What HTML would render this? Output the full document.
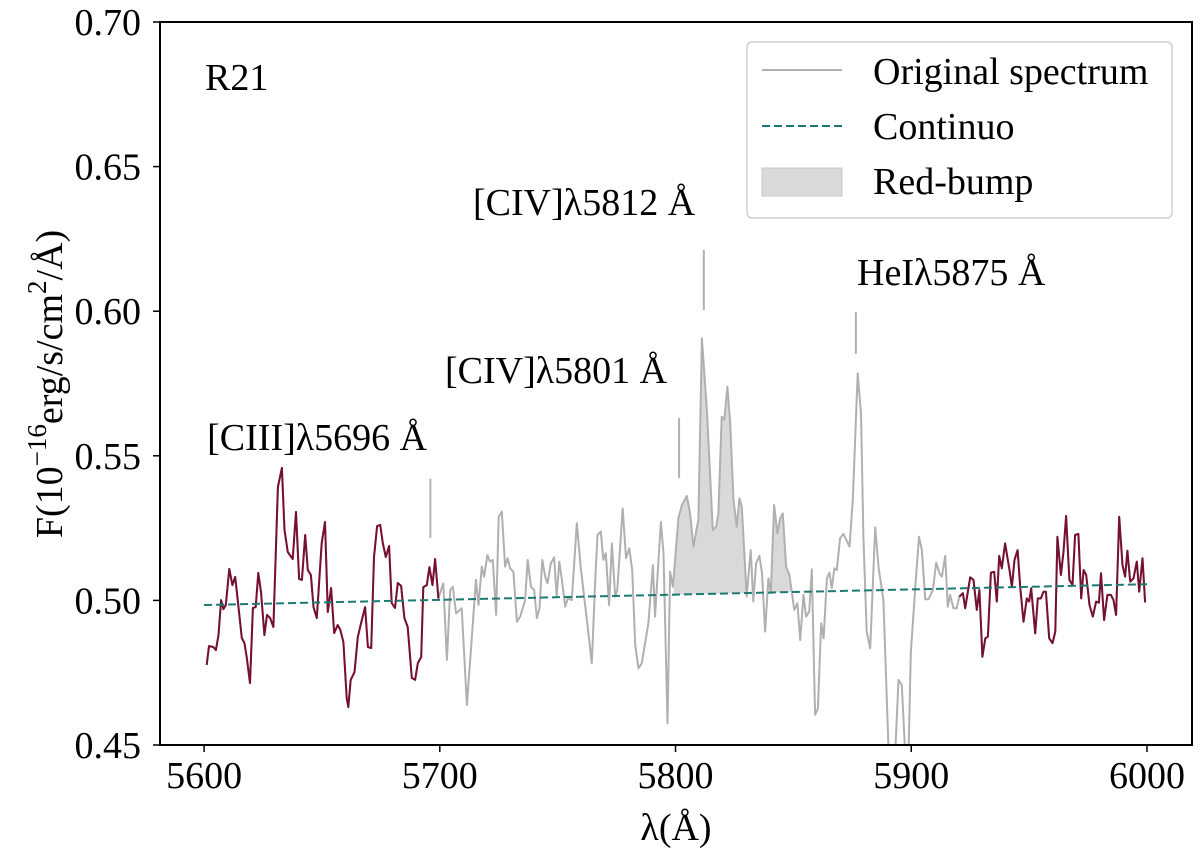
<!DOCTYPE html>
<html><head><meta charset="utf-8"><style>
html,body{margin:0;padding:0;background:#fff;}
svg{display:block;font-family:"Liberation Serif",serif;}
</style></head><body>
<svg id="chart" width="1200" height="854" viewBox="0 0 1200 854"></svg>
<script>
const wavelengths = [5601.1,5602.1,5603.9,5605.0,5606.1,5607.2,5608.2,5609.2,5610.7,5612.0,5613.2,5614.6,5616.0,5617.1,5618.1,5619.5,5620.7,5621.9,5623.0,5624.2,5625.6,5626.7,5628.0,5629.4,5631.3,5633.0,5634.1,5635.5,5637.6,5639.0,5640.3,5641.5,5642.9,5644.0,5645.3,5646.4,5647.8,5649.9,5651.3,5652.5,5653.9,5655.2,5656.7,5657.8,5659.1,5660.5,5661.2,5662.2,5663.8,5665.2,5666.6,5668.3,5669.5,5670.9,5672.1,5673.4,5674.7,5675.8,5677.1,5678.5,5679.6,5681.0,5682.2,5683.6,5685.0,5686.4,5688.1,5689.5,5690.7,5692.1,5693.0,5694.5,5695.6,5696.9,5698.0,5699.4,
5701.5,5703.0,5704.4,5705.5,5706.9,5709.3,5711.5,5713.6,5715.3,5716.4,5717.8,5718.8,5720.2,5721.3,5722.5,5723.9,5725.0,5726.3,5727.7,5728.8,5729.8,5731.2,5732.7,5734.1,5736.2,5737.3,5738.7,5740.0,5741.2,5742.3,5743.5,5744.7,5745.7,5747.1,5748.5,5749.6,5750.7,5751.8,5753.2,5754.3,5756.0,5758.1,5759.8,5762.4,5764.5,5765.9,5766.9,5768.3,5769.4,5770.4,5771.8,5773.0,5774.4,5775.3,5777.6,5779.0,5780.4,5781.6,5782.9,5784.3,5785.7,5788.5,5790.4,5791.3,5793.8,5794.9,5796.6,5797.7,5798.9,5801.2,5802.7,5804.8,5806.2,5807.6,5809.7,5811.2,5813.3,5815.8,5817.2,5818.2,5819.6,5820.7,5822.0,5823.2,5824.6,5826.0,5827.1,5828.1,5830.2,5831.9,5833.0,5834.2,5835.6,5836.7,5838.0,5839.4,5840.4,5841.8,5843.2,5844.4,5845.5,5846.9,5848.3,5850.4,5851.7,5852.9,5854.3,5855.4,5856.7,5857.8,5859.2,5860.4,5861.8,5862.8,5864.2,5865.3,5866.3,5867.4,5868.4,5869.8,5871.2,5873.8,5875.2,5877.3,5878.7,5879.7,5881.1,5882.6,5884.7,5886.1,5888.2,5890.3,5892.3,5894.6,5896.0,5898.4,5899.8,5901.7,5903.3,5904.5,5905.9,5907.3,5909.2,5910.6,5912.0,5913.0,5914.4,5915.5,5916.5,5917.9,5919.3,5920.4,
5921.9,5922.9,5925.0,5926.4,5927.8,5928.9,5930.2,5931.4,5932.5,5933.8,5935.2,5936.3,5937.3,5938.4,5939.8,5941.7,5942.7,5943.8,5945.1,5946.2,5947.6,5949.0,5950.0,5950.9,5952.6,5953.7,5955.0,5956.1,5957.1,5958.5,5959.9,5961.1,5962.0,5963.5,5964.6,5965.7,5967.1,5968.4,5969.5,5970.9,5972.1,5973.1,5974.2,5975.6,5977.0,5978.4,5979.6,5980.5,5981.8,5983.2,5984.7,5985.8,5986.9,5988.2,5989.6,5990.7,5991.7,5992.9,5994.3,5995.7,5996.7,5998.1,5999.2];
const fluxes = [.4777,.4842,.4839,.4828,.4880,.5001,.4970,.4984,.5109,.5053,.5081,.4977,.4870,.4853,.4804,.4714,.4974,.4977,.5095,.5026,.4880,.4950,.4939,.4908,.5392,.5458,.5243,.5167,.5143,.5306,.5074,.5071,.5226,.5105,.5088,.4977,.4939,.5198,.5271,.4960,.5043,.4887,.4915,.4898,.4856,.4662,.4631,.4725,.4752,.4873,.4922,.4977,.4839,.4835,.5150,.5257,.5261,.5198,.5150,.5188,.4991,.4974,.5060,.5050,.4939,.4908,.4732,.4725,.4784,.4804,.5046,.5053,.5115,.5053,.5143,.5007,
.5059,.4794,.5036,.5047,.4955,.4973,.4638,.4875,.5071,.4984,.5117,.5082,.5157,.5134,.5140,.4950,.5289,.5307,.5117,.5146,.5111,.5099,.4926,.4944,.5001,.5140,.5047,.5036,.4938,.4973,.5140,.5082,.5059,.5128,.5149,.5013,.5134,.5071,.4978,.5007,.5001,.5267,.5111,.4932,.4783,.5059,.5226,.5238,.5140,.5163,.4984,.5197,.5013,.5036,.5318,.5146,.5180,.5105,.4846,.4765,.4783,.4921,.5122,.4944,.5272,.5163,.4575,.5099,.5047,.5284,.5330,.5361,.5301,.5186,.5280,.5906,.5658,.5243,.5255,.5301,.5635,.5624,.5739,.5613,.5347,.5255,.5353,.5324,.5013,.5174,.4996,.5128,.5154,.5094,.4892,.5076,.5025,.5330,.5232,.5284,.5301,.5117,.5088,.4967,.4990,.4863,.5019,.4944,.4961,.5108,.4604,.4627,.4921,.4869,.5076,.5096,.5042,.5111,.5105,.5215,.5230,.5186,.5347,.5785,.5647,.5220,.4892,.4834,.5253,.5117,.5001,.4500,.4310,.4725,.4707,.4310,.4817,.5047,.5220,.5174,.5004,.5004,.5036,.5130,.5094,.5082,.5154,.4978,.5019,.4973,.4973,.5013,
.5025,.4973,.5080,.5071,.4967,.5036,.4805,.4869,.4875,.5096,.5099,.4996,.5154,.5111,.5197,.5105,.5047,.5140,.5174,.5047,.4926,.5007,.4996,.5042,.4886,.5007,.5007,.5030,.5030,.4869,.4852,.4892,.5220,.5088,.5168,.5292,.5071,.5053,.5226,.5230,.5007,.5105,.5088,.4984,.4944,.4996,.4992,.5094,.4932,.5019,.5019,.5001,.4950,.5289,.5122,.5082,.5172,.5065,.5076,.5134,.5030,.5146,.4993];
const redRanges = [[5600,5700],[5920,6000]];
const bumpRanges = [[5799,5830.5],[5840,5849.5]];
const contX = [5600,6000];
const contY = [0.4984,0.5056];
const xTicks = [5600,5700,5800,5900,6000];
const yTicks = [0.45,0.50,0.55,0.60,0.65,0.70];
const yTickLabels = ["0.45","0.50","0.55","0.60","0.65","0.70"];
const lineMarkers = [[5696,0.5216,0.5420],[5801.5,0.5423,0.5631],[5812,0.6004,0.6212],[5876.5,0.5852,0.5997]];
const lineLabels = ["[CIII]λ5696 Å","[CIV]λ5801 Å","[CIV]λ5812 Å","HeIλ5875 Å"];
const labelPos = [[5601.3,0.5520],[5702.2,0.5752],[5714.1,0.6333],[5877.0,0.6091]];

const L=160,R=1192,T=22,B=745;
const X0=5581.3,X1=6019.1,Y0=0.45,Y1=0.70;
function sx(v){return L+(v-X0)/(X1-X0)*(R-L);}
function sy(v){return B-(v-Y0)/(Y1-Y0)*(B-T);}
function contAt(w){return contY[0]+(contY[1]-contY[0])*(w-contX[0])/(contX[1]-contX[0]);}
const NS="http://www.w3.org/2000/svg";
const svg=document.getElementById('chart');
function mk(tag,attrs,parent){const e=document.createElementNS(NS,tag);for(const k in attrs)e.setAttribute(k,attrs[k]);(parent||svg).appendChild(e);return e;}
const FS=38;

const defs=mk('defs',{});
const cp=mk('clipPath',{id:'plotclip'},defs);
mk('rect',{x:L,y:T,width:R-L,height:B-T},cp);
const plot=mk('g',{'clip-path':'url(#plotclip)'});



bumpRanges.forEach((r,i)=>{
  let pts=[];
  for(let k=0;k<wavelengths.length;k++){if(wavelengths[k]>=r[0]&&wavelengths[k]<=r[1])pts.push([wavelengths[k],Math.max(fluxes[k],contAt(wavelengths[k]))]);}
  let d='M'+sx(r[0])+','+sy(contAt(r[0]));
  pts.forEach(p=>{d+=' L'+sx(p[0]).toFixed(1)+','+sy(p[1]).toFixed(1);});
  d+=' L'+sx(r[1])+','+sy(contAt(r[1]))+' Z';
  const p=mk('path',{d:d,fill:'#d9d9d9',stroke:'none'},plot);
  
  
});

let dg='';
wavelengths.forEach((w,k)=>{dg+=(k?' L':'M')+sx(w).toFixed(1)+','+sy(fluxes[k]).toFixed(1);});
const gl=mk('path',{d:dg,fill:'none',stroke:'#b0b0b0','stroke-width':2,'stroke-linejoin':'round'},plot);



redRanges.forEach((r,i)=>{
  let d='',first=true;
  wavelengths.forEach((w,k)=>{if(w>=r[0]&&w<=r[1]){d+=(first?'M':' L')+sx(w).toFixed(1)+','+sy(fluxes[k]).toFixed(1);first=false;}});
  const p=mk('path',{d:d,fill:'none',stroke:'#760f31','stroke-width':2,'stroke-linejoin':'round'},plot);
  
  
});

const cl=mk('line',{x1:sx(contX[0]),y1:sy(contY[0]),x2:sx(contX[1]),y2:sy(contY[1]),stroke:'#1c7a72','stroke-width':2,'stroke-dasharray':'8,4'},plot);



lineMarkers.forEach((m,i)=>{
  const ln=mk('line',{x1:sx(m[0]),x2:sx(m[0]),y1:sy(m[1]),y2:sy(m[2]),stroke:'#b0b0b0','stroke-width':2});
  
  
  const t=mk('text',{x:sx(labelPos[i][0]),y:sy(labelPos[i][1]),'font-size':FS,fill:'#000'});
  t.textContent=lineLabels[i];
  
  
});

const r21=mk('text',{x:205,y:90,'font-size':FS});r21.textContent='R21';



const fr=mk('rect',{x:L,y:T,width:R-L,height:B-T,fill:'none',stroke:'#000','stroke-width':2});



xTicks.forEach(v=>{
  const tl=mk('line',{x1:sx(v),x2:sx(v),y1:B,y2:B+7,stroke:'#000','stroke-width':1.5});
  
  
  const t=mk('text',{x:sx(v),y:B+43,'font-size':FS,'text-anchor':'middle'});t.textContent=v;
  
  
});
yTicks.forEach((v,i)=>{
  const tl=mk('line',{x1:L-7,x2:L,y1:sy(v),y2:sy(v),stroke:'#000','stroke-width':1.5});
  
  
  const t=mk('text',{x:L-19,y:sy(v)+13,'font-size':FS,'text-anchor':'end'});t.textContent=yTickLabels[i];
  
  
});

const xt=mk('text',{x:676,y:840,'font-size':FS,'text-anchor':'middle'});xt.textContent='λ(Å)';


const yt=mk('text',{x:0,y:0,'font-size':FS,'text-anchor':'middle',transform:'translate(62,384) rotate(-90)'});


yt.innerHTML='F(10<tspan dy="-16" font-size="27">−16</tspan><tspan dy="16">erg/s/cm</tspan><tspan dy="-16" font-size="27">2</tspan><tspan dy="16">/Å)</tspan>';

const lg=mk('g',{});


mk('rect',{x:747,y:42,width:425,height:176,rx:5,fill:'#fff',stroke:'#d0d0d0','stroke-width':1.5},lg);
const l1=mk('line',{x1:762,x2:842,y1:70,y2:70,stroke:'#b0b0b0','stroke-width':2},lg);


const t1=mk('text',{x:873,y:84,'font-size':FS},lg);t1.textContent='Original spectrum';


const l2=mk('line',{x1:762,x2:842,y1:126,y2:126,stroke:'#1c7a72','stroke-width':2,'stroke-dasharray':'8,4'},lg);


const t2=mk('text',{x:873,y:139,'font-size':FS},lg);t2.textContent='Continuo';


const l3=mk('rect',{x:762,y:168,width:80,height:28,fill:'#d9d9d9',stroke:'#c8c8c8','stroke-width':1},lg);


const t3=mk('text',{x:873,y:194,'font-size':FS},lg);t3.textContent='Red-bump';


</script>
</body></html>
